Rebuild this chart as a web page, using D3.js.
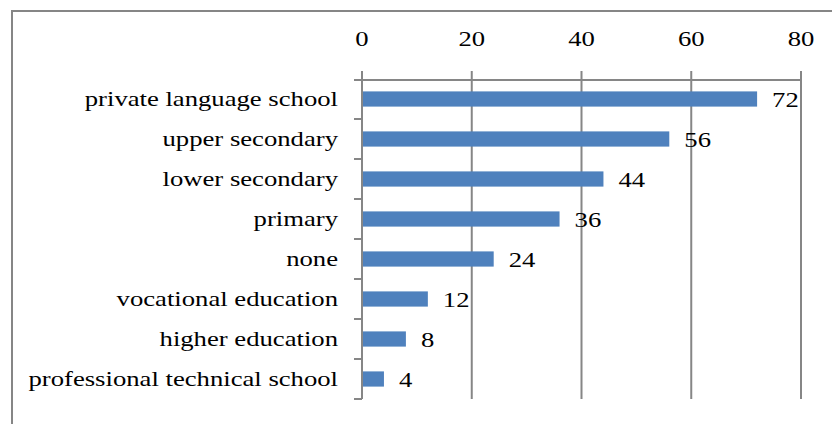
<!DOCTYPE html>
<html>
<head>
<meta charset="utf-8">
<script src="https://cdn.jsdelivr.net/npm/d3@7"></script>
<style>
  html, body { margin: 0; padding: 0; background: #fff; }
  svg { display: block; }
</style>
</head>
<body>
<svg id="chart" width="832" height="424"></svg>
<script>
// Respondents by type of prior schooling
const categories = [
  "private language school",
  "upper secondary",
  "lower secondary",
  "primary",
  "none",
  "vocational education",
  "higher education",
  "professional technical school"
];
const values = [72, 56, 44, 36, 24, 12, 8, 4];
const tickValues = [0, 20, 40, 60, 80];

const svg = d3.select("#chart")
  .attr("font-family", "'Liberation Serif', 'Tinos', 'Times New Roman', Times, serif");
const gridColor = "#868686";
const barColor = "#4F81BD";
const fontSize = 21;
const stretchX = 1.27;   // text is drawn wide relative to its height

// places a text node at (px, py) with horizontal stretch
function placeText(sel, px, py) {
  sel.attr("transform", (d, i) => `translate(${px(d, i)},${py(d, i)}) scale(${stretchX},1)`);
}

// outer frame (only top and left edges fall inside the canvas)
svg.append("rect")
  .attr("x", 12).attr("y", 11)
  .attr("width", 840).attr("height", 440)
  .attr("fill", "none")
  .attr("stroke", gridColor)
  .attr("stroke-width", 2);

const x = d3.scaleLinear().domain([0, 80]).range([362, 801]);
const y = d3.scaleBand().domain(categories).range([79, 399])
  .paddingInner(0.62).paddingOuter(0.31);

const plotTop = 80, plotBottom = 399, tickLen = 9;

// vertical gridlines / axis ticks
svg.append("g").selectAll("line")
  .data(tickValues)
  .join("line")
  .attr("x1", d => x(d)).attr("x2", d => x(d))
  .attr("y1", plotTop - tickLen).attr("y2", plotBottom)
  .attr("stroke", gridColor).attr("stroke-width", 2);

// top axis line
svg.append("line")
  .attr("x1", x(0) - 8).attr("x2", x(80))
  .attr("y1", plotTop).attr("y2", plotTop)
  .attr("stroke", gridColor).attr("stroke-width", 2);

// category boundary ticks on the left axis
const step = y.step();
const y0 = y.range()[0];
const boundaries = d3.range(categories.length + 1).map(i => y0 + i * step);
svg.append("g").selectAll("line")
  .data(boundaries.slice(1))
  .join("line")
  .attr("x1", x(0) - 8).attr("x2", x(0))
  .attr("y1", d => d).attr("y2", d => d)
  .attr("stroke", gridColor).attr("stroke-width", 2);

// value axis labels
svg.append("g").selectAll("text")
  .data(tickValues)
  .join("text")
  .attr("text-anchor", "middle")
  .attr("font-size", fontSize)
  .attr("fill", "#000")
  .text(d => d)
  .call(placeText, d => x(d), () => 46);

// bars
svg.append("g").selectAll("rect")
  .data(values)
  .join("rect")
  .attr("x", x(0) + 1)
  .attr("y", (d, i) => y(categories[i]))
  .attr("width", d => x(d) - x(0) - 1)
  .attr("height", y.bandwidth())
  .attr("fill", barColor);

// category labels
svg.append("g").selectAll("text")
  .data(categories)
  .join("text")
  .attr("dy", "0.35em")
  .attr("text-anchor", "end")
  .attr("font-size", fontSize)
  .attr("fill", "#000")
  .text(d => d)
  .call(placeText, () => 338, d => y(d) + y.bandwidth() / 2);

// value labels
svg.append("g").selectAll("text")
  .data(values)
  .join("text")
  .attr("dy", "0.4em")
  .attr("font-size", fontSize)
  .attr("fill", "#000")
  .text(d => d)
  .call(placeText, d => x(d) + 15, (d, i) => y(categories[i]) + y.bandwidth() / 2);
</script>
</body>
</html>
